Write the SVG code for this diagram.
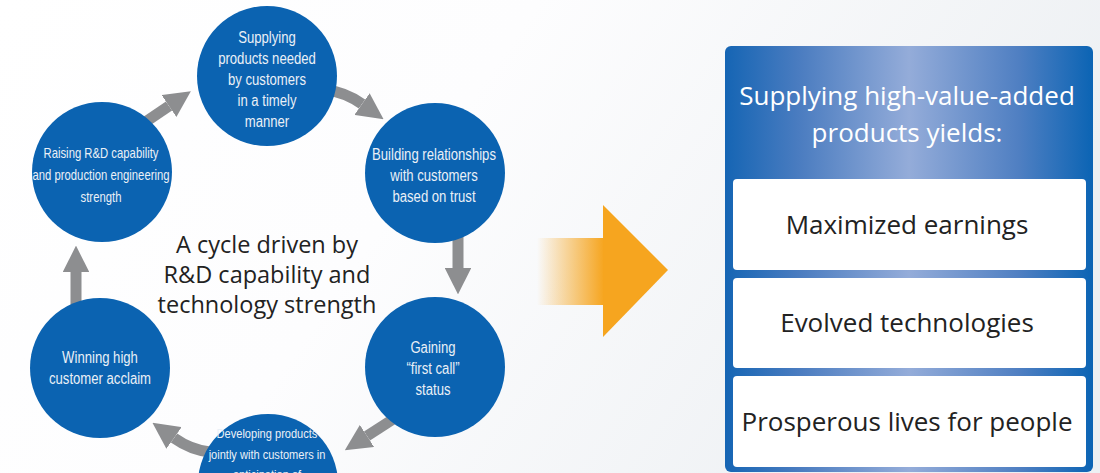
<svg xmlns="http://www.w3.org/2000/svg" width="1100" height="473" viewBox="0 0 1100 473">
<defs>
<linearGradient id="bg" x1="0" y1="0" x2="1" y2="0.3">
<stop offset="0" stop-color="#ffffff"/>
<stop offset="0.45" stop-color="#fdfdfe"/>
<stop offset="1" stop-color="#edf0f3"/>
</linearGradient>
<linearGradient id="panel" x1="0" y1="0" x2="1" y2="0">
<stop offset="0" stop-color="#1565b4"/>
<stop offset="0.2" stop-color="#4a7cc0"/>
<stop offset="0.5" stop-color="#94acd9"/>
<stop offset="0.8" stop-color="#4f7fc2"/>
<stop offset="1" stop-color="#0b64b4"/>
</linearGradient>
<linearGradient id="shaft" x1="537" y1="0" x2="604" y2="0" gradientUnits="userSpaceOnUse">
<stop offset="0" stop-color="#f6a51f" stop-opacity="0"/>
<stop offset="0.6" stop-color="#f6a51f" stop-opacity="0.6"/>
<stop offset="1" stop-color="#f6a51f" stop-opacity="1"/>
</linearGradient>
<marker id="ah" viewBox="0 0 10 10" refX="0" refY="5" markerWidth="2.4" markerHeight="2.4" orient="auto" markerUnits="strokeWidth">
<path d="M0,0 L10,5 L0,10 z" fill="#8d8e90"/>
</marker>
</defs>
<style>
.conn{fill:none;stroke:#8d8e90;stroke-width:11;marker-end:url(#ah)}
.circ{fill:#0b63b1}
.ct{font-family:"Liberation Sans",Arial,sans-serif;font-size:16px;fill:#eaf0f7;text-anchor:middle}
.ct.sm{font-size:13.8px}
.ct.md{font-size:13.5px}
.mid{font-family:"Open Sans",sans-serif;font-size:23.5px;fill:#222222;text-anchor:middle}
.hd{font-family:"Open Sans",sans-serif;font-size:26px;fill:#ffffff;text-anchor:middle}
.bx{fill:#ffffff}
.bt{font-family:"Open Sans",sans-serif;font-size:26px;fill:#222222;text-anchor:middle}
</style>
<rect x="0" y="0" width="1100" height="473" fill="url(#bg)"/>
<g id="connectors">
<path class="conn" d="M138,127 L169,106"/>
<path class="conn" d="M326,90 Q345,92 362,104"/>
<path class="conn" d="M458,232 L458,268"/>
<path class="conn" d="M398,416 L367,436"/>
<path class="conn" d="M210,452 Q191,450 174,438"/>
<path class="conn" d="M76,312 L76,272"/>
</g>
<g id="node-supplying">
<circle class="circ" cx="267" cy="76" r="70"/>
<g transform="translate(267,0) scale(0.82,1)">
<text class="ct" x="0" y="43">Supplying</text>
<text class="ct" x="0" y="64">products needed</text>
<text class="ct" x="0" y="85">by customers</text>
<text class="ct" x="0" y="106">in a timely</text>
<text class="ct" x="0" y="127">manner</text>
</g>
</g>
<g id="node-building">
<circle class="circ" cx="435" cy="173" r="70"/>
<g transform="translate(434,0) scale(0.82,1)">
<text class="ct" x="0" y="160">Building relationships</text>
<text class="ct" x="0" y="181">with customers</text>
<text class="ct" x="0" y="202">based on trust</text>
</g>
</g>
<g id="node-gaining">
<circle class="circ" cx="435" cy="367" r="70"/>
<g transform="translate(433,0) scale(0.82,1)">
<text class="ct" x="0" y="353">Gaining</text>
<text class="ct" x="0" y="374">“first call”</text>
<text class="ct" x="0" y="395">status</text>
</g>
</g>
<g id="node-developing">
<circle class="circ" cx="268" cy="484" r="70"/>
<g transform="translate(267,0) scale(0.82,1)">
<text class="ct md" x="0" y="438">Developing products</text>
<text class="ct md" x="0" y="459">jointly with customers in</text>
<text class="ct md" x="0" y="479">anticipation of</text>
</g>
</g>
<g id="node-winning">
<circle class="circ" cx="100" cy="368" r="70"/>
<g transform="translate(100,0) scale(0.82,1)">
<text class="ct" x="0" y="363">Winning high</text>
<text class="ct" x="0" y="384">customer acclaim</text>
</g>
</g>
<g id="node-raising">
<circle class="circ" cx="102" cy="172" r="70"/>
<g transform="translate(101,0) scale(0.82,1)">
<text class="ct sm" x="0" y="158">Raising R&amp;D capability</text>
<text class="ct sm" x="0" y="180">and production engineering</text>
<text class="ct sm" x="0" y="202">strength</text>
</g>
</g>
<g id="center-label">
<text class="mid" x="267" y="253">A cycle driven by</text>
<text class="mid" x="267" y="283">R&amp;D capability and</text>
<text class="mid" x="267" y="313">technology strength</text>
</g>
<g id="big-arrow">
<rect x="537" y="238" width="67" height="67" fill="url(#shaft)"/>
<polygon points="603,205 668,270 603,337" fill="#f6a51f"/>
</g>
<g id="results-panel">
<rect x="725" y="46" width="368" height="426" rx="6" fill="url(#panel)"/>
<text class="hd" x="907" y="105">Supplying high-value-added</text>
<text class="hd" x="907" y="142">products yields:</text>
</g>
<g id="result-earnings">
<rect class="bx" x="733" y="179" width="353" height="91" rx="4"/>
<text class="bt" x="907" y="234">Maximized earnings</text>
</g>
<g id="result-technologies">
<rect class="bx" x="733" y="278" width="353" height="90" rx="4"/>
<text class="bt" x="907" y="332">Evolved technologies</text>
</g>
<g id="result-lives">
<rect class="bx" x="733" y="376" width="353" height="91" rx="4"/>
<text class="bt" x="907" y="431">Prosperous lives for people</text>
</g>
</svg>
